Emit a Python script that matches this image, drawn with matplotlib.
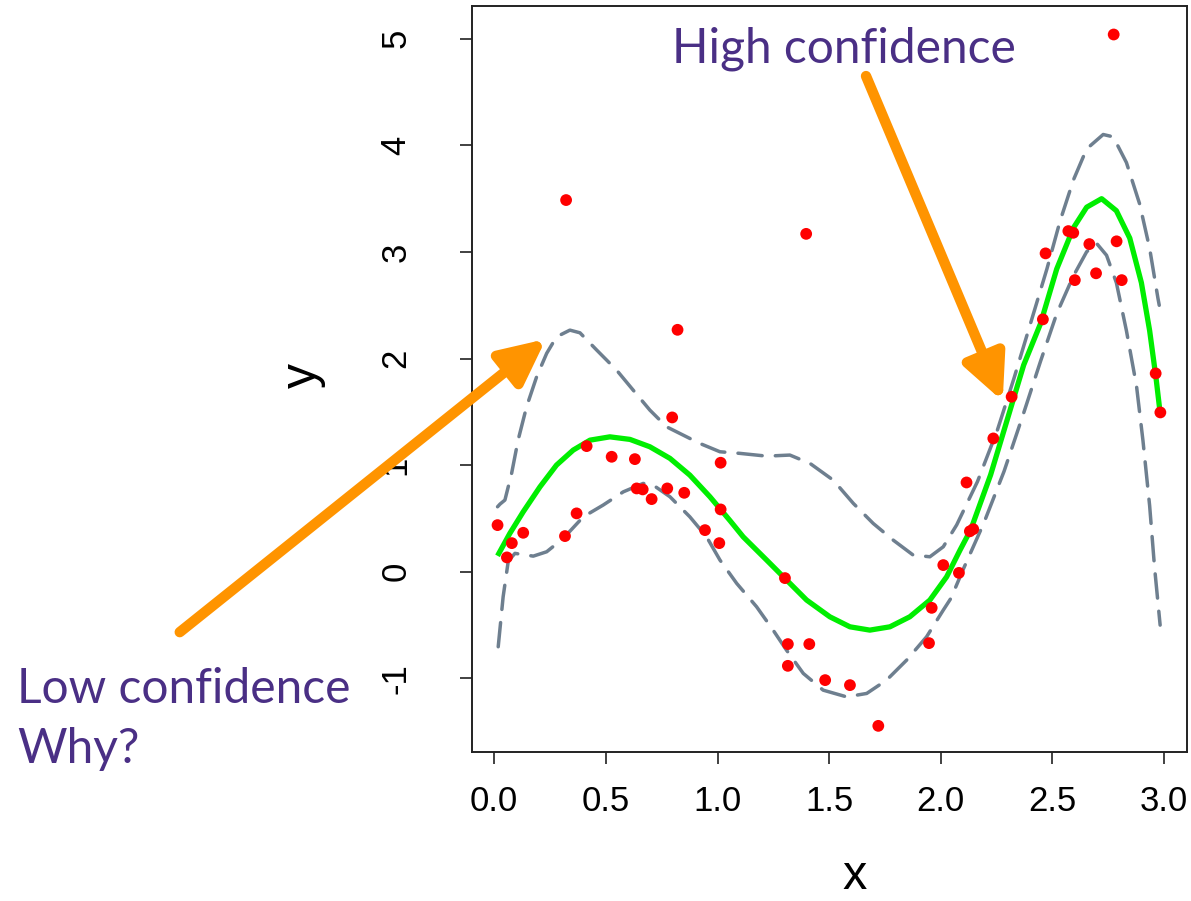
import matplotlib
matplotlib.use('Agg')
import matplotlib.pyplot as plt

# observed points
pts_x = [0.322, 1.397, 0.821, 2.774, 2.571, 2.593, 2.469, 2.665, 2.787, 2.600,
         2.695, 2.810, 2.457, 2.962, 2.317, 2.983, 2.235, 2.115, 2.130, 2.145,
         2.011, 2.081, 1.959, 1.947, 1.482, 1.593, 1.720, 0.797, 0.414, 0.526,
         0.630, 1.014, 0.638, 0.665, 0.705, 0.775, 0.851, 1.014, 0.944, 1.008,
         0.369, 0.317, 0.015, 0.130, 0.079, 0.057, 1.302, 1.315, 1.411, 1.315]
pts_y = [3.487, 3.170, 2.270, 5.040, 3.196, 3.180, 2.987, 3.074, 3.100, 2.736,
         2.800, 2.736, 2.368, 1.861, 1.642, 1.495, 1.251, 0.838, 0.380, 0.400,
         0.063, -0.010, -0.338, -0.669, -1.016, -1.063, -1.445, 1.448, 1.179, 1.079,
         1.057, 1.023, 0.782, 0.773, 0.682, 0.782, 0.741, 0.585, 0.391, 0.269,
         0.548, 0.335, 0.438, 0.366, 0.269, 0.135, -0.059, -0.678, -0.678, -0.882]

# fitted curve
fit_x = [0.015, 0.070, 0.130, 0.205, 0.279, 0.354, 0.429, 0.518, 0.608, 0.697,
         0.787, 0.876, 0.966, 1.056, 1.115, 1.220, 1.302, 1.399, 1.503, 1.593,
         1.682, 1.772, 1.861, 1.951, 2.026, 2.086, 2.134, 2.223, 2.297, 2.371,
         2.446, 2.519, 2.594, 2.653, 2.720, 2.786, 2.846, 2.898, 2.935, 2.964, 2.982]
fit_y = [0.150, 0.360, 0.563, 0.797, 1.001, 1.142, 1.235, 1.266, 1.242, 1.173,
         1.064, 0.907, 0.704, 0.480, 0.328, 0.110, -0.062, -0.265, -0.422, -0.516,
         -0.547, -0.516, -0.422, -0.265, -0.047, 0.204, 0.395, 0.910, 1.425, 1.940,
         2.326, 2.841, 3.227, 3.420, 3.500, 3.387, 3.130, 2.712, 2.262, 1.811, 1.490]

# upper band
up_x = [0.015, 0.026, 0.048, 0.078, 0.107, 0.145, 0.190, 0.235, 0.279, 0.339,
        0.384, 0.459, 0.548, 0.622, 0.697, 0.772, 0.876, 0.921, 1.011, 1.100,
        1.220, 1.324, 1.414, 1.518, 1.608, 1.697, 1.787, 1.876, 1.951, 2.011,
        2.071, 2.164, 2.253, 2.327, 2.401, 2.475, 2.534, 2.594, 2.653, 2.727,
        2.772, 2.831, 2.890, 2.935, 2.972, 2.978]
up_y = [0.610, 0.635, 0.673, 0.923, 1.235, 1.548, 1.829, 2.049, 2.204, 2.267,
        2.242, 2.080, 1.892, 1.705, 1.517, 1.360, 1.251, 1.204, 1.126, 1.111,
        1.085, 1.095, 1.017, 0.860, 0.642, 0.454, 0.297, 0.157, 0.141, 0.235,
        0.440, 0.846, 1.328, 1.811, 2.326, 2.841, 3.291, 3.677, 3.967, 4.102,
        4.080, 3.839, 3.452, 3.034, 2.568, 2.500]

# lower band
lo_x = [0.018, 0.040, 0.063, 0.093, 0.175, 0.235, 0.309, 0.399, 0.488, 0.578,
        0.667, 0.712, 0.787, 0.876, 0.951, 1.011, 1.086, 1.175, 1.249, 1.309,
        1.384, 1.473, 1.578, 1.668, 1.757, 1.847, 1.936, 2.011, 2.045, 2.104,
        2.193, 2.283, 2.371, 2.446, 2.519, 2.594, 2.653, 2.697, 2.742, 2.786,
        2.831, 2.876, 2.905, 2.935, 2.957, 2.982]
lo_y = [-0.703, -0.235, 0.100, 0.173, 0.147, 0.188, 0.313, 0.516, 0.626, 0.750,
        0.829, 0.813, 0.704, 0.516, 0.328, 0.110, -0.109, -0.328, -0.547, -0.735,
        -0.953, -1.110, -1.173, -1.141, -1.016, -0.828, -0.610, -0.359, -0.249, 0.041,
        0.460, 0.942, 1.490, 1.972, 2.422, 2.777, 3.002, 3.082, 2.969, 2.712,
        2.262, 1.747, 1.232, 0.620, 0.041, -0.500]

x_ticks = [0.0, 0.5, 1.0, 1.5, 2.0, 2.5, 3.0]
y_ticks = [-1, 0, 1, 2, 3, 4, 5]

purple = '#4a2f85'
orange = '#ff9400'
band_col = '#6e7f8f'

fig = plt.figure(figsize=(11.91, 9.01), dpi=100)
ax = fig.add_axes([0.396, 0.1654, 0.6004, 0.8279])

dash = (0, (7.0, 3.8))
ax.plot(up_x, up_y, color=band_col, lw=2.5, ls=dash, dash_capstyle='round', zorder=2)
ax.plot(lo_x, lo_y, color=band_col, lw=2.5, ls=dash, dash_capstyle='round', zorder=2)
ax.plot(fit_x, fit_y, color='#00ee00', lw=3.8, solid_capstyle='butt',
        solid_joinstyle='round', zorder=3)
ax.scatter(pts_x, pts_y, s=72, color='#ff0000', edgecolors='none', zorder=4)

ax.set_xlim(-0.101, 3.101)
ax.set_ylim(-1.69, 5.307)
ax.set_xticks(x_ticks)
ax.set_xticklabels([f'{v:.1f}' for v in x_ticks])
ax.set_yticks(y_ticks)
ax.set_yticklabels([str(v) for v in y_ticks], rotation=90, va='center')

ax.tick_params(axis='both', length=8.5, width=1.3, color='#333333',
               labelsize=25, labelfontfamily='Liberation Sans')
ax.tick_params(axis='x', pad=15)
ax.tick_params(axis='y', pad=34)
for sp in ax.spines.values():
    sp.set_linewidth(1.4)
    sp.set_color('#222222')

ax.set_xlabel('x', fontfamily='Liberation Sans', fontsize=35)
ax.set_ylabel('y', fontfamily='Liberation Sans', fontsize=36)
ax.xaxis.set_label_coords(0.536, -0.1836)
ax.xaxis.label.set_va('baseline')
ax.yaxis.set_label_coords(-0.236, 0.505)
ax.yaxis.label.set_va('center')

# annotations
arrow = dict(arrowstyle='-|>,head_length=1.35,head_width=0.65', color=orange,
             lw=7.5, shrinkA=0, shrinkB=0, mutation_scale=20)
ax.annotate('', xy=(0.2315, 2.183), xytext=(-1.408, -0.566),
            arrowprops=arrow, annotation_clip=False, zorder=5)
ax.annotate('', xy=(2.277, 1.601), xytext=(1.665, 4.65),
            arrowprops=arrow, annotation_clip=False, zorder=5)

ax.text(0.796, 4.781, 'High confidence', color=purple, fontsize=34.5,
        family='Lato', ha='left', va='baseline', zorder=6)
ax.text(-2.137, -1.232, 'Low confidence', color=purple, fontsize=34.5,
        family='Lato', ha='left', va='baseline', clip_on=False, zorder=6)
ax.text(-2.137, -1.795, 'Why?', color=purple, fontsize=34.5,
        family='Lato', ha='left', va='baseline', clip_on=False, zorder=6)

fig.savefig('out.png', dpi=100)
